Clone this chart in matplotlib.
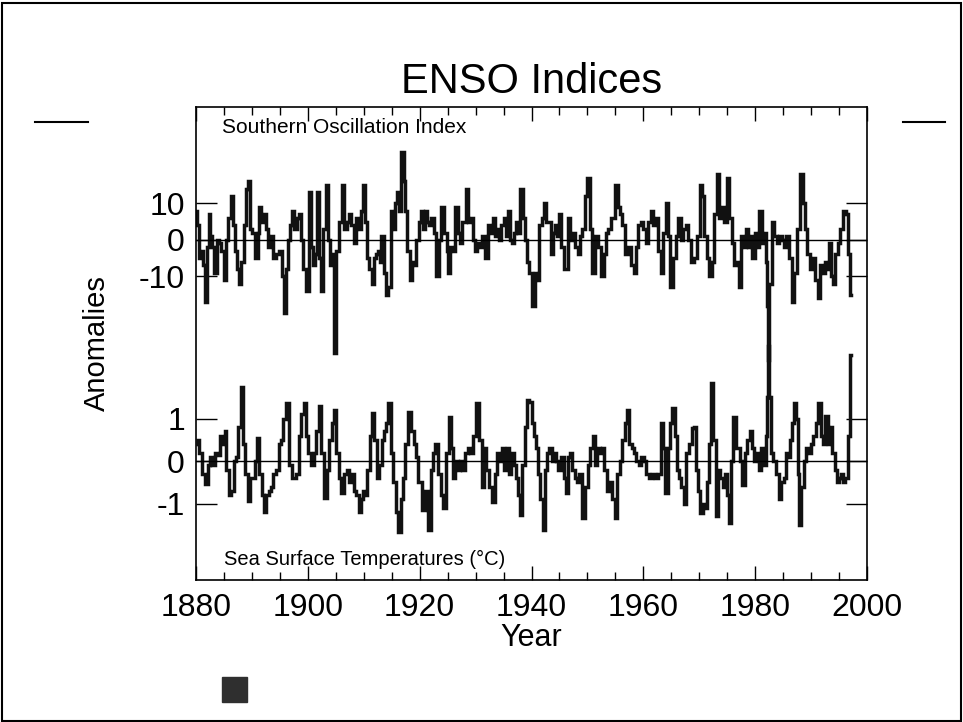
import numpy as np
import matplotlib.pyplot as plt
from matplotlib.patches import Rectangle
from matplotlib.lines import Line2D
from matplotlib.ticker import MultipleLocator

plt.rcParams['font.family'] = ['Liberation Sans', 'DejaVu Sans']
plt.rcParams['axes.unicode_minus'] = False

# Southern Oscillation Index (year, anomaly)
soi_year = [
    1880.0, 1880.3, 1880.6, 1881.0, 1881.4, 1881.9, 1882.2, 1882.4, 1882.7, 1883.0, 1883.5, 1883.9, 1884.3, 1884.7,
    1885.2, 1885.6, 1886.0, 1886.4, 1886.8, 1887.2, 1887.5, 1887.9, 1888.3, 1888.7, 1889.1, 1889.5, 1889.9,
    1890.3, 1890.8, 1891.2, 1891.5, 1891.9, 1892.3, 1892.7, 1893.2, 1893.6, 1894.1, 1894.6, 1895.1, 1895.6,
    1896.0, 1896.3, 1896.6, 1897.0, 1897.4, 1897.8, 1898.2, 1898.6, 1899.0, 1899.4, 1899.9,
    1900.4, 1900.7, 1901.0, 1901.4, 1901.9, 1902.2, 1902.5, 1903.0, 1903.4, 1903.8, 1904.2, 1904.6, 1904.9,
    1905.3, 1905.8, 1906.3, 1906.7, 1907.2, 1907.6, 1908.0, 1908.5, 1908.9, 1909.3, 1909.6, 1910.0,
    1910.4, 1910.7, 1911.2, 1911.7, 1912.0, 1912.4, 1912.7, 1913.0, 1913.3, 1913.8, 1914.2, 1914.6, 1915.0,
    1915.4, 1915.8, 1916.1, 1916.5, 1917.0, 1917.3, 1917.6, 1918.0, 1918.4, 1918.8, 1919.2, 1919.6,
    1920.0, 1920.5, 1920.8, 1921.1, 1921.5, 1921.9, 1922.3, 1922.7, 1923.2, 1923.6, 1924.2, 1924.6, 1925.0,
    1925.3, 1925.7, 1926.1, 1926.6, 1927.0, 1927.4, 1927.9, 1928.5, 1928.9, 1929.3, 1929.7,
    1930.1, 1930.5, 1930.9, 1931.4, 1932.0, 1932.5, 1932.9, 1933.2, 1933.6, 1934.0, 1934.4, 1934.8, 1935.2,
    1935.6, 1935.9, 1936.3, 1936.7, 1937.1, 1937.5, 1937.8, 1938.2, 1938.6, 1939.0, 1939.4, 1939.8,
    1940.3, 1940.8, 1941.2, 1941.6, 1942.0, 1942.4, 1942.8, 1943.2, 1943.6, 1944.0, 1944.4, 1944.8, 1945.1,
    1945.6, 1946.2, 1946.7, 1947.1, 1947.6, 1948.1, 1948.5, 1948.9, 1949.3, 1949.8,
    1950.2, 1950.6, 1951.1, 1951.6, 1952.1, 1952.7, 1953.1, 1953.5, 1954.0, 1954.5, 1955.2, 1955.6, 1956.0,
    1956.5, 1957.0, 1957.5, 1958.0, 1958.5, 1958.9, 1959.3, 1959.8,
    1960.2, 1960.7, 1961.1, 1961.5, 1961.9, 1962.4, 1962.9, 1963.4, 1963.8, 1964.2, 1964.6, 1965.1, 1965.6,
    1966.0, 1966.5, 1966.9, 1967.3, 1967.8, 1968.2, 1968.9, 1969.3, 1969.8,
    1970.4, 1970.7, 1971.1, 1971.5, 1971.9, 1972.5, 1972.9, 1973.4, 1973.8, 1974.2, 1974.6, 1975.2, 1975.6,
    1976.0, 1976.4, 1976.8, 1977.3, 1977.7, 1978.1, 1978.5, 1978.9, 1979.3, 1979.7,
    1980.1, 1980.5, 1981.0, 1981.4, 1981.8, 1982.0, 1982.2, 1982.4, 1982.7, 1983.2, 1983.6, 1984.1, 1984.6,
    1985.0, 1985.4, 1985.8, 1986.2, 1986.8, 1987.2, 1987.7, 1988.3, 1988.7, 1989.1, 1989.5,
    1990.0, 1990.5, 1991.0, 1991.3, 1991.8, 1992.2, 1992.6, 1993.0, 1993.4, 1993.8, 1994.1, 1994.6, 1995.0,
    1995.5, 1996.0, 1996.4, 1996.8, 1997.1,
]
soi_value = [
    8, 4, -5, -3, -7, -17, -2, 7, 1, -2, -9, 0, -1, -3,
    -11, 0, 6, 12, 4, -3, -8, -12, -6, 4, 14, 16, 3,
    2, -5, 2, 9, 5, 7, 3, -2, 1, -5, -4, -3, -10,
    -20, -8, 0, 4, 8, 3, 6, 7, 0, -8, -14,
    13, -2, -7, -4, 13, -5, -14, 3, 15, 0, -7, -4, -31,
    -3, 5, 15, 3, 5, 7, 4, -1, 6, 3, 8, 15,
    5, -5, -8, -12, -5, -4, -3, -6, 1, -9, -15, -13, 8,
    3, 10, 13, 8, 24, 16, 8, -3, -11, -6, -7, 0,
    5, 8, 3, 8, 5, 4, 6, 2, -10, 0, 9, 2, -3,
    -9, -2, -3, 9, 2, -1, 5, 14, 5, 6, 0,
    -3, -1, -2, 1, -5, 4, 2, 6, 1, 3, 0, 4, 6,
    1, 8, 0, -1, 2, 5, 2, 14, 6, 0, -6, -9,
    -18, -9, -11, 4, 6, 10, 5, 5, -4, 2, 4, 1, 7,
    -2, -8, 6, 0, 2, -2, -4, 1, 3, 12,
    17, 3, -9, 1, -2, -10, -4, 2, 3, 6, 15, 9, 7,
    4, -4, -2, -7, -9, -2, 4, 5,
    3, -1, 5, 8, 4, 6, -3, -9, 2, 10, 1, -13, -5,
    1, 6, 0, 3, 4, 0, -6, -5, 1,
    15, 12, 1, -5, -10, -6, 7, 18, 6, 9, 5, 17, 6,
    -1, -7, -6, -13, 1, -2, 3, -2, 1, -5,
    2, -2, 8, -1, 2, -6, -18, -33, -12, 5, 1, -1, 1,
    0, -2, 1, -5, -17, -9, 3, 18, 10, 3, -4,
    -8, -5, -11, -16, -7, -9, -6, -8, -1, -10, -12, -4, -1,
    3, 8, 7, -4, -15,
]

# Sea surface temperature anomalies (deg C)
sst_year = [
    1880.0, 1880.4, 1880.8, 1881.3, 1881.9, 1882.3, 1882.7, 1883.1, 1883.6, 1884.0, 1884.5, 1885.0, 1885.2,
    1885.6, 1886.1, 1886.5, 1887.0, 1887.4, 1887.8, 1888.3, 1888.6, 1889.0, 1889.5, 1889.9,
    1890.3, 1890.7, 1891.1, 1891.5, 1892.0, 1892.3, 1892.8, 1893.2, 1893.6, 1894.1, 1894.6, 1895.0, 1895.4,
    1895.8, 1896.5, 1896.9, 1897.3, 1897.7, 1898.1, 1898.6, 1899.0, 1899.5, 1899.9,
    1900.3, 1900.8, 1901.3, 1901.7, 1902.2, 1902.6, 1903.2, 1903.6, 1904.0, 1904.5, 1904.9, 1905.3, 1905.8,
    1906.2, 1906.7, 1907.2, 1907.6, 1908.0, 1908.5, 1908.9, 1909.3, 1909.6,
    1910.0, 1910.4, 1910.9, 1911.2, 1911.6, 1912.0, 1912.6, 1913.0, 1913.4, 1913.9, 1914.2, 1914.6, 1915.0,
    1915.5, 1916.0, 1916.4, 1916.8, 1917.2, 1917.6, 1918.3, 1918.7, 1919.1, 1919.5,
    1920.0, 1920.7, 1921.2, 1921.8, 1922.2, 1922.6, 1923.0, 1923.5, 1924.0, 1924.5, 1925.0, 1925.4, 1925.8,
    1926.2, 1926.6, 1927.0, 1927.4, 1927.9, 1928.4, 1928.8, 1929.3, 1929.8,
    1930.5, 1930.9, 1931.3, 1931.7, 1932.2, 1932.7, 1933.2, 1933.6, 1934.0, 1934.5, 1934.9, 1935.4, 1935.8,
    1936.2, 1936.6, 1937.0, 1937.4, 1937.8, 1938.1, 1938.6, 1939.0, 1939.4, 1939.8,
    1940.2, 1940.6, 1941.0, 1941.4, 1941.8, 1942.2, 1942.6, 1943.0, 1943.4, 1943.8, 1944.2, 1944.6, 1945.0,
    1945.5, 1946.0, 1946.3, 1946.7, 1947.1, 1947.5, 1947.9, 1948.3, 1948.8, 1949.4, 1949.8,
    1950.3, 1950.8, 1951.2, 1951.6, 1952.0, 1952.4, 1952.8, 1953.3, 1953.8, 1954.2, 1954.6, 1955.1, 1955.6,
    1956.0, 1956.5, 1956.9, 1957.3, 1957.7, 1958.1, 1958.5, 1959.0, 1959.4, 1959.9,
    1960.3, 1960.8, 1961.3, 1961.8, 1962.4, 1962.9, 1963.3, 1963.7, 1964.2, 1964.6, 1965.0, 1965.4, 1965.8,
    1966.2, 1966.6, 1967.0, 1967.4, 1967.9, 1968.4, 1968.9, 1969.3, 1969.7,
    1970.0, 1970.4, 1970.8, 1971.2, 1971.6, 1972.0, 1972.3, 1972.7, 1973.2, 1973.6, 1974.0, 1974.4, 1974.8,
    1975.2, 1975.5, 1975.9, 1976.3, 1976.7, 1977.1, 1977.5, 1977.9, 1978.4, 1978.8, 1979.2, 1979.6,
    1980.0, 1980.4, 1980.8, 1981.3, 1981.7, 1982.0, 1982.2, 1982.4, 1982.7, 1983.0, 1983.4, 1984.0, 1984.5,
    1984.9, 1985.3, 1985.7, 1986.1, 1986.5, 1986.8, 1987.1, 1987.5, 1987.8, 1988.0, 1988.4, 1988.9, 1989.3,
    1989.7,
    1990.1, 1990.6, 1991.0, 1991.6, 1992.0, 1992.3, 1992.8, 1993.2, 1993.6, 1994.0, 1994.4, 1994.8, 1995.2,
    1995.6, 1995.9, 1996.3, 1996.8, 1997.1,
]
sst_value = [
    0.4, 0.5, 0.2, -0.3, -0.53, -0.1, 0.1, -0.1, 0.2, 0.15, 0.6, 0.4, 0.7,
    -0.2, -0.8, -0.7, 0.0, 0.1, 0.8, 1.75, 0.4, -0.3, -0.95, -0.4,
    -0.4, 0.0, 0.53, -0.3, -0.8, -1.2, -0.8, -0.7, -0.6, -0.3, -0.2, 0.4, 0.5,
    1.0, 1.36, -0.1, -0.4, -0.4, -0.3, 0.6, 1.1, 1.36, 0.6,
    0.2, -0.1, 0.2, 0.7, 1.3, 0.2, -0.88, -0.2, 0.5, 0.9, 1.2, 0.2, -0.4,
    -0.76, -0.3, -0.2, -0.5, -0.3, -0.7, -0.8, -1.2, -0.9,
    -0.7, -0.8, -0.2, 0.6, 1.12, 0.5, -0.4, -0.1, 0.5, 0.7, 0.9, 1.36, 0.2,
    -0.5, -1.2, -1.66, -0.9, -0.4, 0.4, 1.16, 0.7, 0.4, 0.1,
    -0.5, -1.15, -0.7, -1.62, -0.2, 0.2, 0.4, -0.3, -0.8, -1.1, 0.2, 1.04, 0.3,
    -0.4, 0.0, -0.2, 0.0, -0.2, 0.2, 0.3, 0.2, 0.6,
    1.36, 0.5, -0.6, 0.3, -0.2, -0.6, -0.96, -0.3, 0.2, 0.0, 0.3, -0.2, 0.3,
    -0.3, 0.2, -0.1, -0.4, -0.8, -1.27, -0.1, 0.8, 1.43, 1.4,
    0.9, 0.6, 0.3, -0.3, -0.9, -1.62, -0.2, 0.2, 0.3, 0.0, 0.2, 0.0, -0.2,
    0.1, -0.4, -0.76, 0.1, 0.2, -0.2, -0.4, -0.5, -0.3, -1.35, -0.6,
    -0.1, 0.3, 0.6, -0.1, 0.3, 0.2, 0.3, -0.2, -0.7, -0.5, -0.9, -1.35, -0.3,
    0.0, 0.5, 0.9, 1.2, 0.4, 0.3, 0.2, 0.0, -0.1, 0.1,
    0.0, -0.3, -0.4, -0.3, -0.4, -0.3, 0.89, 0.3, -0.76, 0.3, 0.9, 1.24, 0.6,
    -0.2, -0.4, -0.6, -1.0, 0.2, 0.4, 0.77, 0.8, -0.2,
    -0.7, -1.23, -1.0, -1.1, -0.5, 0.4, 1.83, 0.5, -1.3, -0.2, -0.4, -0.6, -0.3,
    -0.8, -1.47, 0.0, 1.04, 0.3, 0.3, 0.0, -0.56, 0.2, 0.5, 0.7, 0.3,
    0.0, 0.2, -0.2, 0.3, -0.1, 0.6, 1.5, 2.7, 1.5, 0.2, 0.0, -0.3, -0.9,
    -0.5, -0.4, 0.2, 0.1, 0.5, 0.9, 1.36, 1.0, -0.3, -1.5, -0.6, 0.0, 0.3,
    0.2,
    0.4, 0.6, 0.9, 1.36, 0.6, 0.4, 1.05, 0.4, 0.8, 0.2, -0.2, -0.5, -0.4,
    -0.3, -0.5, -0.4, 0.6, 2.5,
]

soi_ticks = [-10, 0, 10]
sst_ticks = [-1, 0, 1]

W, H = 963, 722
fig = plt.figure(figsize=(W / 100, H / 100), dpi=100)

# both series share one box; each gets its own y scale
rect = [196 / W, 1 - 580 / H, 671 / W, 473 / H]
ax = fig.add_axes(rect)
ax2 = fig.add_axes(rect, sharex=ax)
ax2.patch.set_visible(False)
for s in ax2.spines.values():
    s.set_visible(False)

line_kw = dict(color='#111111', lw=2.5, drawstyle='steps-mid', solid_joinstyle='miter')
ax.plot(soi_year, soi_value, **line_kw)
ax2.plot(sst_year, sst_value, **line_kw)
ax.axhline(0, color='k', lw=1.0)
ax2.axhline(0, color='k', lw=1.0)

ax.set_xlim(1880, 2000)
ax.set_ylim(-93.2, 36.4)
ax2.set_ylim(-2.8, 8.33)

for s in ax.spines.values():
    s.set_linewidth(1.2)

ax.xaxis.set_major_locator(MultipleLocator(20))
ax.xaxis.set_minor_locator(MultipleLocator(5))
ax.tick_params(axis='x', which='both', direction='in', top=True, bottom=True,
               labelsize=23, pad=9, width=1)
ax.tick_params(axis='x', which='major', length=10)
ax.tick_params(axis='x', which='minor', length=6)
ax2.tick_params(axis='x', which='both', bottom=False, top=False, labelbottom=False)

ax.set_yticks(soi_ticks)
ax2.set_yticks(sst_ticks)
for a in (ax, ax2):
    a.tick_params(axis='y', which='both', direction='in', left=True, right=True,
                  length=15, width=1, labelsize=23, pad=8)
    a.yaxis.set_minor_locator(plt.NullLocator())

ax.set_xlabel('Year', fontsize=22, va='center')
ax.xaxis.set_label_coords(0.5, (580 - 638) / 473)
ax.set_ylabel('Anomalies', fontsize=21, va='center')
ax.yaxis.set_label_coords((97 - 196) / 671, 0.5)

ax.text(0.5, (580 - 82) / 473, 'ENSO Indices', transform=ax.transAxes,
        ha='center', va='center', fontsize=30)
ax.text((222 - 196) / 671, (580 - 133) / 473, 'Southern Oscillation Index',
        transform=ax.transAxes, ha='left', va='baseline', fontsize=15)
ax.text((224 - 196) / 671, (580 - 565) / 473, 'Sea Surface Temperatures (°C)',
        transform=ax.transAxes, ha='left', va='baseline', fontsize=14.5)

# page decorations: frame, two short rules, small dark square
fig.add_artist(Rectangle((2 / W, 1 / H), 959 / W, 718 / H, transform=fig.transFigure,
                         fill=False, ec='k', lw=1.5))
fig.add_artist(Line2D([35 / W, 88 / W], [1 - 122 / H] * 2, color='k', lw=1.5))
fig.add_artist(Line2D([903 / W, 945 / W], [1 - 122 / H] * 2, color='k', lw=1.5))
fig.add_artist(Rectangle((222 / W, 1 - 702 / H), 25 / W, 25 / H, transform=fig.transFigure,
                         color='#2f2f2f'))

fig.savefig('out.png', dpi=100)
